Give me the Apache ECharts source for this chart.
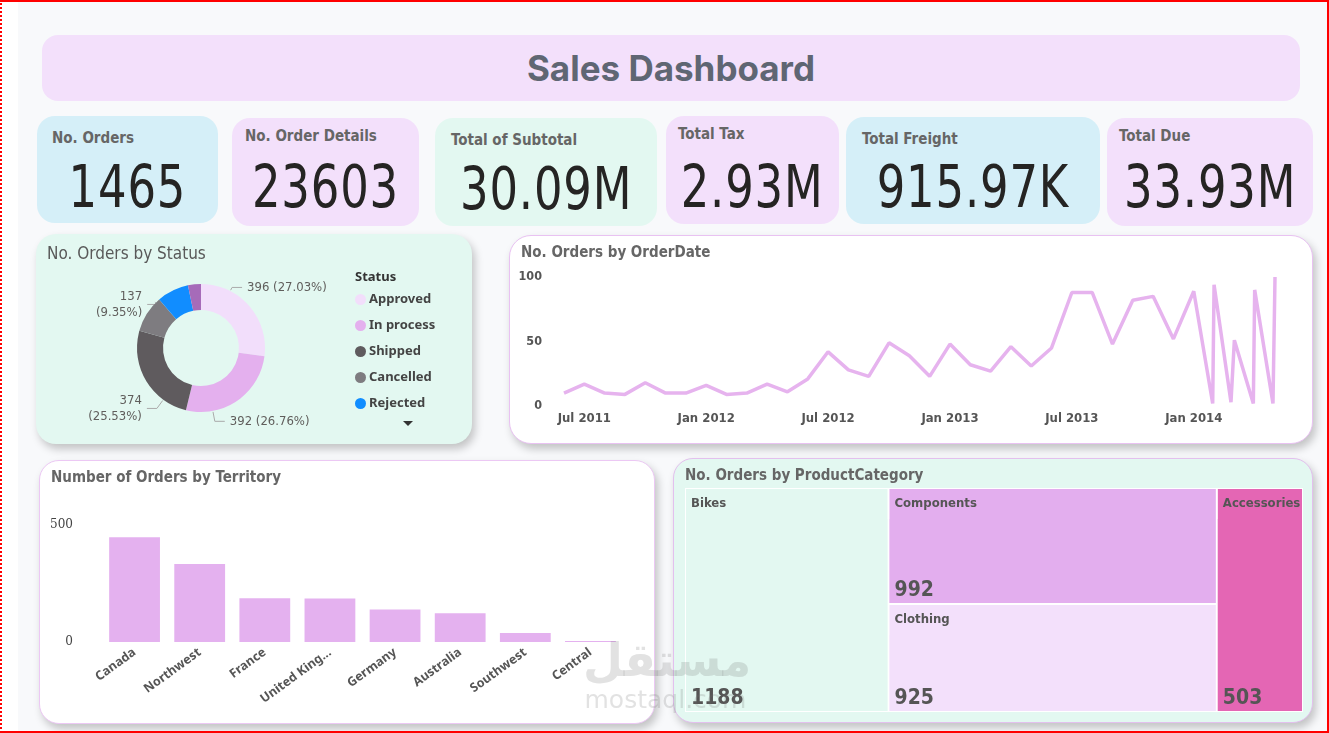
<!DOCTYPE html>
<html>
<head>
<meta charset="utf-8">
<title>Sales Dashboard</title>
<script src="https://cdn.jsdelivr.net/npm/echarts@6.0.0/dist/echarts.min.js"></script>
<style>
  html, body { margin: 0; padding: 0; width: 1329px; height: 733px; overflow: hidden; background: #fff; }
  body { position: relative; font-family: "DejaVu Sans Condensed", Roboto, sans-serif; }
  #frame { position: absolute; left: 0; top: 0; width: 1329px; height: 733px; box-sizing: border-box; pointer-events: none; z-index: 20;
           border-top: 2px solid #f00; border-right: 2px solid #f00; border-bottom: 2px solid #f00; border-left: 2px dotted #f00; }
  #bg { position: absolute; left: 18px; top: 0; width: 1311px; height: 733px; background: #f8f9fb; }
  .card { position: absolute; box-sizing: border-box; border-radius: 18px; }
  .panel { box-shadow: 3px 5px 8px rgba(0, 0, 0, 0.22); }
  .kpi-title { position: absolute; font-size: 15px; font-weight: bold; color: #666; white-space: nowrap; line-height: 20px; }
  .kpi-value { position: absolute; left: 0; right: 0; text-align: center; font-size: 58px; letter-spacing: 1px; color: #252423; line-height: 64px; white-space: nowrap; }
  .kpi-value span { display: inline-block; transform: scaleX(0.86); }
  #banner { left: 42px; top: 35px; width: 1258px; height: 66px; background: #f3e0fb; border-radius: 16px; }
  #banner div { text-align: center; line-height: 66px; font-family: Inter, "Open Sans", sans-serif; font-size: 35px; font-weight: 700; color: #5f6673; letter-spacing: 0; }
  .chart { position: absolute; left: 0; top: 0; width: 100%; height: 100%; }
  #watermark { position: absolute; left: 583px; top: 632px; width: 165px; z-index: 15; pointer-events: none; color: rgba(110, 110, 110, 0.2); text-align: center; }
  #watermark .ar { font-family: "DejaVu Sans", sans-serif; font-size: 46px; font-weight: bold; line-height: 56px; }
  #watermark .en { font-family: "DejaVu Sans", sans-serif; font-size: 25px; line-height: 24px; }
</style>
</head>
<body>
<div id="bg"></div>
<div id="banner" class="card"><div>Sales Dashboard</div></div>
<div id="kpis"></div>

<div class="card panel" style="left:36px;top:234px;width:436px;height:210px;background:#e3f8f1;border-radius:20px;">
  <div id="chartStatus" class="chart"></div>
</div>
<div class="card panel" style="left:509px;top:235px;width:804px;height:209px;background:#fff;border:1px solid #e9c2f2;border-radius:22px;">
  <div id="chartDate" class="chart"></div>
</div>
<div class="card panel" style="left:39px;top:460px;width:616px;height:264px;background:#fff;border:1px solid #ecc8f4;border-radius:20px;">
  <div id="chartTerritory" class="chart"></div>
</div>
<div class="card panel" style="left:673px;top:458px;width:640px;height:265px;background:#e3f8f1;border:1px solid #e3c0ee;border-radius:20px;">
  <div id="chartCategory" class="chart"></div>
</div>

<div id="watermark"><div class="ar">مستقل</div><div class="en">mostaql.com</div></div>
<div id="frame"></div>

<script>
// KPI cards
var kpiTitles = ['No. Orders', 'No. Order Details', 'Total of Subtotal', 'Total Tax', 'Total Freight', 'Total Due'];
var kpiValues = ['1465', '23603', '30.09M', '2.93M', '915.97K', '33.93M'];

// status donut
var statusNames = ['Approved', 'In process', 'Shipped', 'Cancelled', 'Rejected', 'Backordered'];
var statusOrders = [396, 392, 374, 137, 118, 48];

// orders by date
var orderDates = [
    '2011-06-01', '2011-07-01', '2011-08-01', '2011-09-01', '2011-10-01', '2011-11-01', '2011-12-01',
    '2012-01-01', '2012-02-01', '2012-03-01', '2012-04-01', '2012-05-01', '2012-06-01', '2012-07-01',
    '2012-08-01', '2012-09-01', '2012-10-01', '2012-11-01', '2012-12-01', '2013-01-01', '2013-02-01',
    '2013-03-01', '2013-04-01', '2013-05-01', '2013-06-01', '2013-07-01', '2013-08-01', '2013-09-01',
    '2013-10-01', '2013-11-01', '2013-12-01', '2014-01-01', '2014-01-29', '2014-02-01', '2014-02-26',
    '2014-03-01', '2014-03-29', '2014-04-01', '2014-04-28', '2014-05-01'
];
var orderCounts = [
    10, 17, 10, 9, 18, 10, 10,
    16, 9, 10, 17, 11, 21, 42,
    28, 23, 49, 39, 23, 48, 32,
    27, 46, 31, 45, 88, 88, 48,
    82, 85, 52, 89, 2, 94, 3,
    51, 2, 90, 2, 100
];
var dateTickDates = ['2011-07-01', '2012-01-01', '2012-07-01', '2013-01-01', '2013-07-01', '2014-01-01'];
var dateTickLabels = ['Jul 2011', 'Jan 2012', 'Jul 2012', 'Jan 2013', 'Jul 2013', 'Jan 2014'];

// orders by territory
var territories = ['Canada', 'Northwest', 'France', 'United Kingdom', 'Germany', 'Australia', 'Southwest', 'Central'];
var territoryOrders = [448, 333, 187, 186, 139, 123, 38, 4];

// orders by product category
var productCategories = ['Bikes', 'Components', 'Clothing', 'Accessories'];
var productOrders = [1188, 992, 925, 503];

var narrow = '"DejaVu Sans Condensed", Roboto, sans-serif';
var sans = '"Noto Sans", "Open Sans", sans-serif';

// KPI card boxes: left, top, width, height, background, title left, title centre y, value centre y
var kpiBoxes = [
    [37, 116, 181, 107, '#d5eff8', 15, 138, 187],
    [232, 118, 187, 108, '#f3e0fb', 13, 136, 187],
    [435, 118, 222, 108, '#e3f8f1', 16, 140, 189],
    [666, 116, 173, 108, '#f3e0fb', 12, 134, 187],
    [846, 117, 254, 107, '#d5eff8', 16, 139, 187],
    [1107, 118, 206, 108, '#f3e0fb', 12, 136, 187]
];
var kpiWrap = document.getElementById('kpis');
kpiTitles.forEach(function (t, i) {
    var b = kpiBoxes[i];
    var card = document.createElement('div');
    card.className = 'card';
    card.style.cssText = 'left:' + b[0] + 'px;top:' + b[1] + 'px;width:' + b[2] + 'px;height:' + b[3] + 'px;background:' + b[4] + ';';
    card.innerHTML = '<div class="kpi-title" style="left:' + b[5] + 'px;top:' + (b[6] - 10 - b[1]) + 'px">' + t + '</div>' +
        '<div class="kpi-value" style="top:' + (b[7] - 32 - b[1]) + 'px"><span>' + kpiValues[i] + '</span></div>';
    kpiWrap.appendChild(card);
});

function titleOpt(text, bold) {
    return {
        text: text, left: 11, top: bold ? 10 : 12, padding: 0,
        textStyle: { fontFamily: narrow, fontSize: bold ? 15 : 17, fontWeight: bold ? 'bold' : 'normal', color: bold ? '#666' : '#595959' }
    };
}

// ---- donut
var statusChart = echarts.init(document.getElementById('chartStatus'));
var statusColors = ['#f2defb', '#e4b0ee', '#5f5b5e', '#7e7c80', '#118dff', '#a66bb9'];
var pieCenter = [165, 114], pieRadius = [38, 64];
var labelNudge = [[-27, -13], [-31, 14], [22, 24], [21, -5]];
statusChart.setOption({
    animation: false,
    title: [titleOpt('No. Orders by Status', false), {
        text: 'Status', left: 319, top: 37, padding: 0,
        textStyle: { fontFamily: sans, fontSize: 13, fontWeight: 'bold', color: '#333' }
    }],
    color: statusColors,
    legend: {
        orient: 'vertical', left: 319, top: 59, padding: 0,
        icon: 'circle', itemWidth: 11, itemHeight: 11, itemGap: 13,
        data: statusNames.slice(0, 5),
        textStyle: { fontFamily: sans, fontSize: 13, fontWeight: 'bold', color: '#444', padding: [0, 0, 0, -2] }
    },
    graphic: [{
        type: 'polygon', shape: { points: [[367, 187], [377, 187], [372, 192]] }, style: { fill: '#333' }
    }],
    series: [{
        type: 'pie',
        center: pieCenter,
        radius: pieRadius,
        percentPrecision: 2,
        label: {
            fontFamily: narrow, fontSize: 13, color: '#605e5c', lineHeight: 16,
            formatter: function (p) {
                var pct = '(' + p.percent.toFixed(2) + '%)';
                return (p.dataIndex === 2 || p.dataIndex === 3) ? p.value + '\n' + pct : p.value + ' ' + pct;
            }
        },
        labelLine: { length: 8, length2: 14, lineStyle: { color: '#aaa' } },
        labelLayout: function (p) {
            var d = labelNudge[p.dataIndex];
            var q = p.labelLinePoints;
            if (!d || !q) return {};
            // move the label, then rebuild its guide line towards the ring
            var s = q[2][0] > q[0][0] ? 1 : -1;
            var end = [q[2][0] + d[0], q[2][1] + d[1]];
            var elbow = [end[0] - s * 10, end[1]];
            var vx = elbow[0] - pieCenter[0], vy = elbow[1] - pieCenter[1];
            var len = Math.sqrt(vx * vx + vy * vy);
            var start = [pieCenter[0] + vx / len * (pieRadius[1] + 1), pieCenter[1] + vy / len * (pieRadius[1] + 1)];
            return { dx: d[0], dy: d[1], labelLinePoints: [start, elbow, end] };
        },
        data: statusNames.map(function (n, i) {
            return { name: n, value: statusOrders[i], label: { show: i < 4 }, labelLine: { show: i < 4 } };
        })
    }]
});

// ---- line by order date
function monthIndex(s) {
    var p = s.split('-');
    return (p[0] - 2011) * 12 + (p[1] - 1) + (p[2] - 1) / 30;
}
var tickIdx = dateTickDates.map(monthIndex);
var dateChart = echarts.init(document.getElementById('chartDate'));
dateChart.setOption({
    animation: false,
    title: titleOpt('No. Orders by OrderDate', true),
    grid: { left: 54, right: 37, top: 41, bottom: 37 },
    xAxis: {
        type: 'value', min: monthIndex(orderDates[0]), max: monthIndex(orderDates[orderDates.length - 1]),
        axisLine: { show: false }, axisTick: { show: false }, splitLine: { show: false },
        axisLabel: {
            customValues: tickIdx, margin: 6,
            fontFamily: narrow, fontSize: 13, fontWeight: 'bold', color: '#555',
            formatter: function (v) {
                for (var i = 0; i < tickIdx.length; i++) {
                    if (Math.abs(tickIdx[i] - v) < 0.01) return dateTickLabels[i];
                }
                return '';
            }
        }
    },
    yAxis: {
        type: 'value', min: 0, max: 100, interval: 50,
        axisLine: { show: false }, axisTick: { show: false }, splitLine: { show: false },
        axisLabel: { margin: 22, fontFamily: narrow, fontSize: 12.5, fontWeight: 'bold', color: '#555' }
    },
    series: [{
        type: 'line',
        showSymbol: false,
        lineStyle: { width: 3.5, color: '#e6b3ee' },
        data: orderDates.map(function (d, i) { return [monthIndex(d), orderCounts[i]]; })
    }]
});

// ---- bar by territory
var terrChart = echarts.init(document.getElementById('chartTerritory'));
terrChart.setOption({
    animation: false,
    title: titleOpt('Number of Orders by Territory', true),
    grid: { left: 62, right: 31, top: 64, bottom: 81 },
    xAxis: {
        type: 'category', data: territories,
        axisLine: { show: false }, axisTick: { show: false },
        axisLabel: {
            rotate: 36, margin: 9, interval: 0,
            width: 92, overflow: 'truncate', ellipsis: '...',
            fontFamily: sans, fontSize: 12.5, fontWeight: 'bold', color: '#555'
        }
    },
    yAxis: {
        type: 'value', min: 0, max: 500, interval: 500,
        axisLine: { show: false }, axisTick: { show: false }, splitLine: { show: false },
        axisLabel: { margin: 29, fontFamily: '"DejaVu Serif", serif', fontSize: 12, color: '#444' }
    },
    series: [{
        type: 'bar',
        barCategoryGap: '22%',
        itemStyle: { color: '#e4b1ef' },
        data: territoryOrders
    }]
});

// ---- treemap by product category
var catColors = ['#e3f8f1', '#e3aeee', '#f3e0fb', '#e466b4'];
function catNode(i) {
    return {
        name: productCategories[i],
        itemStyle: { color: catColors[i], borderColor: catColors[i], borderWidth: 0, gapWidth: 0 },
        upperLabel: {
            show: true, height: 30, position: [5, '50%'], verticalAlign: 'middle', padding: 0,
            fontFamily: narrow, fontSize: 13, fontWeight: 'bold', color: '#555',
            formatter: '{b}'
        },
        children: [{ name: productCategories[i], value: productOrders[i], itemStyle: { color: catColors[i] } }]
    };
}
var catChart = echarts.init(document.getElementById('chartCategory'));
catChart.setOption({
    animation: false,
    title: titleOpt('No. Orders by ProductCategory', true),
    series: [{
        type: 'treemap',
        left: 11, top: 29, width: 618, height: 224,
        roam: false, nodeClick: false, sort: false,
        breadcrumb: { show: false },
        itemStyle: { borderWidth: 0, gapWidth: 0, borderColor: '#fff' },
        upperLabel: { show: false, height: 0 },
        levels: [{ itemStyle: { borderWidth: 1, gapWidth: 2, borderColor: '#fff' }, upperLabel: { show: false, height: 0 } }],
        label: {
            show: true, position: 'insideBottomLeft', distance: 2, padding: [0, 0, 0, 3],
            fontFamily: narrow, fontSize: 21, fontWeight: 'bold', color: '#555',
            formatter: function (p) { return p.value; }
        },
        data: [
            catNode(0),
            {
                name: 'group',
                itemStyle: { borderWidth: 0, gapWidth: 2, borderColor: '#fff' },
                upperLabel: { show: false, height: 0 },
                children: [catNode(1), catNode(2)]
            },
            catNode(3)
        ]
    }]
});
</script>
</body>
</html>
